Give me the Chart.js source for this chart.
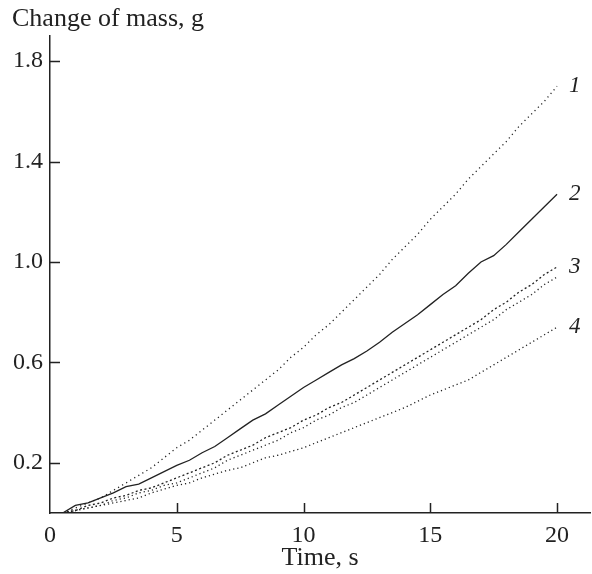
<!DOCTYPE html>
<html>
<head>
<meta charset="utf-8">
<script src="https://cdn.jsdelivr.net/npm/chart.js@4"></script>
<style>
  html, body { margin: 0; padding: 0; background: #fff; }
  #wrap { width: 592px; height: 574px; }
</style>
</head>
<body>
<div id="wrap"><canvas id="massChart" width="592" height="574"></canvas></div>
<script>
// time, s
const time = [0.5, 1, 1.5, 2, 2.5, 3, 3.5, 4, 4.5, 5, 5.5, 6, 6.5, 7, 7.5, 8, 8.5, 9, 9.5, 10,
              10.5, 11, 11.5, 12, 12.5, 13, 13.5, 14, 14.5, 15, 15.5, 16, 16.5, 17, 17.5, 18, 18.5, 19, 19.5, 20];

// change of mass, g
const curve1 = [0.00, 0.02, 0.04, 0.06, 0.09, 0.12, 0.15, 0.18, 0.22, 0.26, 0.29, 0.33, 0.37, 0.41, 0.45, 0.49, 0.53, 0.57, 0.62, 0.66,
                0.71, 0.75, 0.80, 0.85, 0.90, 0.95, 1.01, 1.06, 1.11, 1.17, 1.22, 1.27, 1.33, 1.38, 1.43, 1.48, 1.54, 1.59, 1.64, 1.70];
const curve2 = [0.00, 0.03, 0.04, 0.06, 0.08, 0.105, 0.115, 0.14, 0.165, 0.19, 0.21, 0.24, 0.265, 0.30, 0.335, 0.37, 0.395, 0.43, 0.465, 0.50,
                0.53, 0.56, 0.59, 0.615, 0.645, 0.68, 0.72, 0.755, 0.79, 0.83, 0.87, 0.905, 0.955, 1.00, 1.025, 1.07, 1.12, 1.17, 1.22, 1.27];
const curve3a = [0.00, 0.01, 0.03, 0.04, 0.06, 0.07, 0.09, 0.10, 0.12, 0.14, 0.16, 0.18, 0.20, 0.23, 0.25, 0.27, 0.30, 0.32, 0.34, 0.37,
                 0.39, 0.42, 0.44, 0.47, 0.50, 0.53, 0.56, 0.59, 0.62, 0.65, 0.68, 0.71, 0.74, 0.77, 0.81, 0.84, 0.88, 0.91, 0.95, 0.98];
const curve3b = [0.00, 0.01, 0.02, 0.03, 0.05, 0.06, 0.08, 0.09, 0.11, 0.12, 0.14, 0.16, 0.18, 0.21, 0.23, 0.25, 0.27, 0.29, 0.32, 0.34,
                 0.37, 0.39, 0.42, 0.44, 0.47, 0.50, 0.53, 0.56, 0.59, 0.62, 0.65, 0.68, 0.71, 0.74, 0.77, 0.81, 0.84, 0.87, 0.91, 0.94];
const curve4 = [0.00, 0.01, 0.02, 0.03, 0.04, 0.05, 0.06, 0.08, 0.095, 0.11, 0.12, 0.14, 0.155, 0.17, 0.18, 0.20, 0.22, 0.23, 0.245, 0.26,
                0.28, 0.30, 0.32, 0.34, 0.36, 0.38, 0.40, 0.42, 0.445, 0.47, 0.49, 0.51, 0.53, 0.56, 0.59, 0.62, 0.65, 0.68, 0.71, 0.74];

const xTicks = [0, 5, 10, 15, 20];
const yTicks = [0.2, 0.6, 1.0, 1.4, 1.8];
const curveNames = ['1', '2', '3', '', '4'];

const INK = '#222';
const SERIF = '"Liberation Serif", "DejaVu Serif", serif';

function pts(ys) {
  return time.map((t, i) => ({ x: t, y: ys[i] }));
}

function line(label, ys, dash, width) {
  return {
    label: label,
    data: pts(ys),
    borderColor: INK,
    borderWidth: width,
    borderDash: dash,
    pointRadius: 0,
    tension: 0,
    fill: false
  };
}

// inward ticks, curve numbers and the y axis caption
const decor = {
  id: 'decor',
  afterDraw(chart) {
    const { ctx, scales: { x, y } } = chart;
    ctx.save();
    ctx.strokeStyle = INK;
    ctx.lineWidth = 1.5;
    ctx.beginPath();
    yTicks.forEach(v => {
      const py = Math.round(y.getPixelForValue(v)) + 0.5;
      ctx.moveTo(x.left, py);
      ctx.lineTo(x.left + 10, py);
    });
    xTicks.slice(1).forEach(v => {
      const px = Math.round(x.getPixelForValue(v)) + 0.5;
      ctx.moveTo(px, y.bottom);
      ctx.lineTo(px, y.bottom - 10);
    });
    ctx.stroke();

    ctx.fillStyle = INK;
    ctx.font = 'italic 23px ' + SERIF;
    ctx.textAlign = 'left';
    ctx.textBaseline = 'middle';
    chart.data.datasets.forEach((ds, i) => {
      const name = curveNames[i];
      if (!name) return;
      const last = ds.data[ds.data.length - 1];
      ctx.fillText(name, x.getPixelForValue(last.x) + 12, y.getPixelForValue(last.y));
    });

    ctx.font = '26px ' + SERIF;
    ctx.textBaseline = 'alphabetic';
    ctx.fillText('Change of mass, g', 12, 26);
    ctx.restore();
  }
};

new Chart(document.getElementById('massChart'), {
  type: 'line',
  data: {
    datasets: [
      line('1', curve1, [1.2, 3.5], 1.3),
      line('2', curve2, [], 1.3),
      line('3', curve3a, [2, 2.5], 1.3),
      line('3', curve3b, [1.2, 3], 1.3),
      line('4', curve4, [1.2, 3], 1.3)
    ]
  },
  options: {
    responsive: false,
    animation: false,
    layout: { padding: { top: 36, right: 2, left: 0, bottom: 0 } },
    plugins: {
      legend: { display: false },
      tooltip: { enabled: false }
    },
    scales: {
      x: {
        type: 'linear',
        min: 0,
        max: 21.3,
        afterFit(s) { s.height = 61; },
        afterBuildTicks(s) { s.ticks = xTicks.map(v => ({ value: v })); },
        grid: { display: false, drawTicks: false },
        border: { display: true, color: INK, width: 1.5 },
        ticks: { color: INK, padding: 8, font: { family: SERIF, size: 24 }, maxRotation: 0 },
        title: {
          display: true,
          text: 'Time, s',
          color: INK,
          font: { family: SERIF, size: 26 },
          padding: { top: 0, bottom: 0 }
        }
      },
      y: {
        type: 'linear',
        min: 0,
        max: 1.9,
        afterFit(s) { s.width = 50; },
        afterBuildTicks(s) { s.ticks = yTicks.map(v => ({ value: v })); },
        grid: { display: false, drawTicks: false },
        border: { display: true, color: INK, width: 1.5 },
        ticks: {
          color: INK,
          padding: 7,
          font: { family: SERIF, size: 24 },
          callback: v => v.toFixed(1)
        }
      }
    }
  },
  plugins: [decor]
});
</script>
</body>
</html>
